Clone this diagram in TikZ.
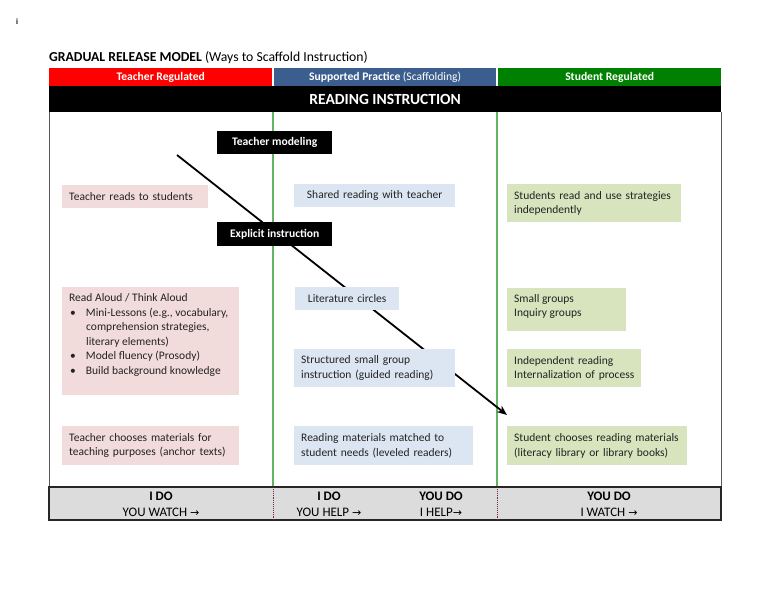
\documentclass[tikz,border=0pt]{standalone}
\usepackage{fontspec}
\setmainfont{Carlito}
\newfontfamily\arrowfont{DejaVu Sans}
\usetikzlibrary{arrows.meta}
\definecolor{hdrred}{RGB}{255,0,0}
\definecolor{hdrblue}{RGB}{59,94,142}
\definecolor{hdrgreen}{RGB}{0,128,0}
\definecolor{pinkbox}{RGB}{242,220,219}
\definecolor{bluebox}{RGB}{220,230,242}
\definecolor{greenbox}{RGB}{215,228,189}
\definecolor{rowgray}{RGB}{220,220,220}
\definecolor{vgreen}{RGB}{100,180,100}
\definecolor{divred}{RGB}{110,40,80}
\definecolor{txtgray}{RGB}{35,35,35}
\newcommand\myarr{{\arrowfont\fontsize{11}{11}\selectfont →}}
\tikzset{
  hdrcell/.style={anchor=north west, inner sep=0pt, minimum height=18pt, text=white, font=\fontsize{11.6}{12}\selectfont\bfseries},
  card/.style={anchor=north west, inner xsep=7pt, inner ysep=0pt, align=left, text=txtgray, font=\fontsize{11.5}{14.5}\selectfont},
  cardtext/.style={anchor=north west, inner sep=0pt, align=left, text=txtgray, font=\fontsize{11.5}{14.5}\selectfont},
  blackbox/.style={anchor=north west, fill=black, text=white, inner sep=0pt, minimum width=115pt, font=\fontsize{11.6}{12}\selectfont\bfseries},
  btxt/.style={anchor=base, inner sep=0pt, text=black, font=\fontsize{13}{13}\selectfont},
  bbold/.style={btxt, font=\fontsize{13}{13}\selectfont\bfseries},
}
\begin{document}
\begin{tikzpicture}[x=1pt,y=-1pt]
\useasboundingbox (0,0) rectangle (768,593);
% stray mark and title
\node[anchor=base, inner sep=0pt, font=\fontsize{8}{8}\selectfont\bfseries] (dot) at (17,25) {i};
\node[anchor=base west, inner sep=0pt, font=\fontsize{13.7}{14}\selectfont] (title) at (49,62) {\textbf{GRADUAL RELEASE MODEL} (Ways to Scaffold Instruction)};
% header row
\node[hdrcell, fill=hdrred, minimum width=223pt] (hred) at (49,68) {Teacher Regulated};
\node[hdrcell, fill=hdrblue, minimum width=222pt] (hblue) at (274,68) {Supported Practice \mdseries(Scaffolding)};
\node[hdrcell, fill=hdrgreen, minimum width=223pt] (hgreen) at (498,68) {Student Regulated};
\node[anchor=north west, fill=black, text=white, inner sep=0pt, minimum width=672pt, minimum height=26pt, font=\fontsize{15.5}{16}\selectfont\bfseries] (reading) at (49,86) {READING INSTRUCTION};
% body frame
\draw[black!65, line width=0.9pt] (49,112) -- (49,487) (721,112) -- (721,487);
\draw[vgreen, line width=1.1pt] (273,112) -- (273,487) (497,112) -- (497,487);
% bottom row
\fill[rowgray] (49,487) rectangle (721,520);
\draw[black!85, line width=1.1pt] (49,487) rectangle (721,520);
\draw[divred, line width=0.9pt, densely dotted] (273,487) -- (273,520) (497,487) -- (497,520);
% arrow (behind boxes)
\coordinate (astart) at (177,155);
\coordinate (aend) at (507,415);
\draw[line width=1.8pt, -{Stealth[length=10pt,width=8pt]}] (astart) -- (aend);
% teacher column
\node[card, fill=pinkbox, text width=132pt, minimum height=23pt] (treads) at (62,185) {Teacher reads to students};
\node[anchor=north west, fill=pinkbox, inner sep=0pt, minimum width=177pt, minimum height=108pt] (aloudbox) at (62,287) {};
\node[cardtext] (aloudtxt) at (69,293.5) {Read Aloud / Think Aloud\\
\hspace*{1pt}\textbullet\hspace*{10pt}Mini-Lessons (e.g., vocabulary,\\
\hspace*{17pt}comprehension strategies,\\
\hspace*{17pt}literary elements)\\
\hspace*{1pt}\textbullet\hspace*{10pt}Model fluency (Prosody)\\
\hspace*{1pt}\textbullet\hspace*{10pt}Build background knowledge};
\node[card, fill=pinkbox, text width=163pt, minimum height=39pt] (tchoose) at (62,426) {Teacher chooses materials for\\teaching purposes (anchor texts)};
% supported column
\node[card, fill=bluebox, text width=147pt, minimum height=23pt, align=center] (shared) at (294,184) {Shared reading with teacher};
\node[card, fill=bluebox, text width=90pt, minimum height=23pt, align=center] (litcirc) at (295,287) {Literature circles};
\node[card, fill=bluebox, text width=147pt, minimum height=38pt] (struct) at (294,349) {Structured small group\\instruction (guided reading)};
\node[card, fill=bluebox, text width=165pt, minimum height=39pt] (matched) at (294,426) {Reading materials matched to\\student needs (leveled readers)};
% student column
\node[card, fill=greenbox, text width=160pt, minimum height=38pt] (sread) at (507,184) {Students read and use strategies\\independently};
\node[anchor=north west, fill=greenbox, inner sep=0pt, minimum width=119pt, minimum height=43pt] (smallbox) at (507,288) {};
\node[cardtext] (smalltxt) at (514,294) {Small groups\\Inquiry groups};
\node[card, fill=greenbox, text width=124pt, inner xsep=5pt, minimum height=38pt] (indep) at (507,349) {\hspace*{2pt}Independent reading\\\hspace*{2pt}Internalization of process};
\node[card, fill=greenbox, text width=166pt, minimum height=39pt] (schoose) at (507,426) {Student chooses reading materials\\(literacy library or library books)};
% black labels
\node[blackbox, minimum height=23pt] (tmodel) at (217,131) {Teacher modeling};
\node[blackbox, minimum height=24pt] (explicit) at (217,222) {Explicit instruction};
% bottom texts
\node[bbold] (ido1) at (161,500) {I DO};
\node[btxt] (watch1) at (161,516.5) {YOU WATCH \myarr};
\node[bbold] (ido2) at (329,500) {I DO};
\node[btxt] (help1) at (329,516.5) {YOU HELP \myarr};
\node[bbold] (youdo2) at (441,500) {YOU DO};
\node[btxt] (help2) at (441,516.5) {I HELP\myarr};
\node[bbold] (youdo3) at (609,500) {YOU DO};
\node[btxt] (watch3) at (609,516.5) {I WATCH \myarr};
\end{tikzpicture}
\end{document}
